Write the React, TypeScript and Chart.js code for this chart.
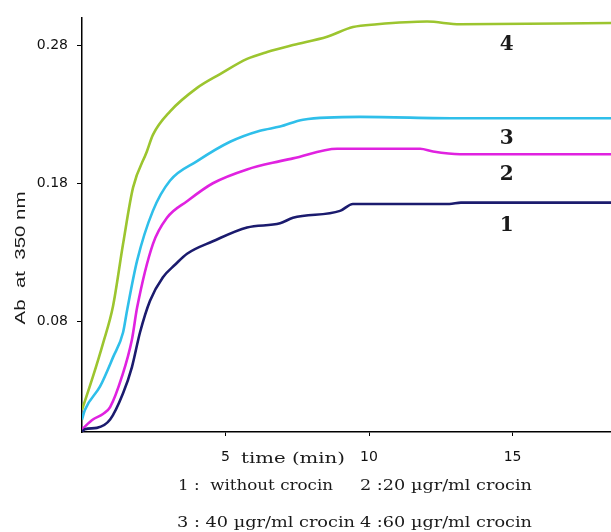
import React, { useEffect, useRef } from "react";
import { Chart, registerables } from "chart.js";

Chart.register(...registerables);

// ---- Data (time in minutes, absorbance at 350 nm) ----
const xTicks = [5, 10, 15];
const xTickLabels = ["5", "10", "15"];
const yTicks = [0.08, 0.18, 0.28];
const yTickLabels = ["0.08", "0.18", "0.28"];

// 1: without crocin
const t1 = [0, 0.1, 0.52, 0.98, 1.43, 1.74, 2.02, 2.37, 2.82, 3.24, 3.66, 4.56, 5.75, 6.9, 7.35, 8.99, 9.44, 12.8, 13.2, 18.43];
const ab1 = [0, 0.002, 0.003, 0.009, 0.028, 0.047, 0.072, 0.095, 0.112, 0.121, 0.129, 0.138, 0.148, 0.151, 0.155, 0.16, 0.165, 0.165, 0.166, 0.166];

// 2: 20 µgr/ml crocin
const t2 = [0, 0.38, 0.73, 0.98, 1.39, 1.74, 1.92, 2.47, 2.96, 3.66, 4.56, 5.75, 6.9, 7.35, 8.89, 11.78, 12.23, 13.17, 18.43];
const ab2 = [0.002, 0.009, 0.013, 0.018, 0.04, 0.067, 0.09, 0.136, 0.155, 0.167, 0.18, 0.19, 0.196, 0.198, 0.205, 0.205, 0.203, 0.201, 0.201];

// 3: 40 µgr/ml crocin
const t3 = [0, 0.1, 0.63, 1.08, 1.43, 1.57, 1.92, 2.47, 3.07, 4.01, 5.16, 6.2, 6.9, 7.7, 9.69, 13.17, 18.43];
const ab3 = [0.009, 0.016, 0.033, 0.054, 0.072, 0.088, 0.124, 0.16, 0.182, 0.196, 0.21, 0.218, 0.221, 0.226, 0.228, 0.227, 0.227];

// 4: 60 µgr/ml crocin
const t4 = [0, 0.38, 0.73, 1.08, 1.43, 1.78, 2.26, 2.47, 3.07, 4.01, 4.81, 5.75, 6.45, 7.35, 8.54, 9.44, 10.28, 12.02, 13.17, 18.43];
const ab4 = [0.016, 0.04, 0.064, 0.091, 0.136, 0.177, 0.203, 0.215, 0.232, 0.249, 0.259, 0.27, 0.275, 0.28, 0.286, 0.293, 0.295, 0.297, 0.295, 0.296];

const seriesNames = ["1", "2", "3", "4"];
const seriesColors = ["#1b1b6e", "#e022e0", "#2fbfea", "#9cc52f"];

const yTitle = "Ab  at  350 nm";
const xTitle = "time (min)";
const legendLine1a = "1 :  without crocin";
const legendLine1b = "2 :20 \u00b5gr/ml crocin";
const legendLine2a = "3 : 40 \u00b5gr/ml crocin";
const legendLine2b = "4 :60 \u00b5gr/ml crocin";

const toPts = (t: number[], a: number[]) => t.map((x, i) => ({ x, y: a[i] }));

function drawFitted(ctx: CanvasRenderingContext2D, text: string, left: number, width: number, baseline: number) {
  const m = ctx.measureText(text).width;
  const sx = width / m;
  ctx.save();
  ctx.translate(left, baseline);
  ctx.scale(sx, 1);
  ctx.textAlign = "left";
  ctx.textBaseline = "alphabetic";
  ctx.fillText(text, 0, 0);
  ctx.restore();
}

const textPlugin = {
  id: "annotText",
  afterDraw(chart: any) {
    const ctx: CanvasRenderingContext2D = chart.ctx;
    const xs = chart.scales.x;
    const ys = chart.scales.y;
    ctx.save();
    ctx.fillStyle = "#1a1a1a";

    // y axis title (rotated)
    ctx.save();
    ctx.font = '15px "Liberation Sans"';
    ctx.translate(25, 258);
    ctx.rotate(-Math.PI / 2);
    const yw = ctx.measureText(yTitle).width;
    ctx.scale(133 / yw, 1);
    ctx.textAlign = "center";
    ctx.textBaseline = "alphabetic";
    ctx.fillText(yTitle, 0, 0);
    ctx.restore();

    // x axis title and legend lines
    ctx.font = '14px "DejaVu Serif"';
    drawFitted(ctx, xTitle, 241, 104, 463);
    ctx.font = '15px "DejaVu Serif"';
    drawFitted(ctx, legendLine1a, 178, 155, 490);
    drawFitted(ctx, legendLine1b, 360, 172, 490);
    drawFitted(ctx, legendLine2a, 177, 178, 527);
    drawFitted(ctx, legendLine2b, 360, 172, 527);

    // curve number labels
    ctx.font = 'bold 20px "DejaVu Serif"';
    ctx.textAlign = "center";
    ctx.textBaseline = "middle";
    const lx = xs.getPixelForValue(14.8);
    const labelVals = [0.149, 0.186, 0.212, 0.28];
    labelVals.forEach((v, i) => {
      ctx.fillText(seriesNames[i], lx, ys.getPixelForValue(v));
    });
    ctx.restore();
  },
};

export default function App() {
  const ref = useRef<HTMLCanvasElement>(null);

  useEffect(() => {
    if (!ref.current) return;
    const datasets = [
      toPts(t1, ab1),
      toPts(t2, ab2),
      toPts(t3, ab3),
      toPts(t4, ab4),
    ].map((data, i) => ({
      label: seriesNames[i],
      data,
      borderColor: seriesColors[i],
      backgroundColor: seriesColors[i],
      borderWidth: 2.6,
      pointRadius: 0,
      cubicInterpolationMode: "monotone" as const,
      fill: false,
    }));

    const chart = new Chart(ref.current, {
      type: "line",
      data: { datasets },
      plugins: [textPlugin],
      options: {
        animation: false,
        responsive: false,
        devicePixelRatio: 1,
        layout: { padding: { top: 15, left: 0, right: 0, bottom: 0 } },
        plugins: { legend: { display: false }, tooltip: { enabled: false } },
        scales: {
          x: {
            type: "linear",
            min: 0,
            max: 18.43,
            afterBuildTicks: (s: any) => {
              s.ticks = xTicks.map((v) => ({ value: v }));
            },
            afterFit: (s: any) => {
              s.height = 100;
            },
            border: { display: true, color: "#000", width: 1.5 },
            grid: {
              display: true,
              drawOnChartArea: false,
              drawTicks: true,
              tickLength: 4,
              tickColor: "#000",
              tickWidth: 1,
            },
            ticks: {
              autoSkip: false,
              maxRotation: 0,
              padding: 13,
              color: "#111",
              font: { family: "DejaVu Sans", size: 14 },
              callback: (_v: any, i: number) => xTickLabels[i],
            },
          },
          y: {
            type: "linear",
            min: 0,
            max: 0.3,
            afterBuildTicks: (s: any) => {
              s.ticks = yTicks.map((v) => ({ value: v }));
            },
            afterFit: (s: any) => {
              s.width = 82;
            },
            border: { display: true, color: "#000", width: 1.5 },
            grid: {
              display: true,
              drawOnChartArea: false,
              drawTicks: true,
              tickLength: 5,
              tickColor: "#000",
              tickWidth: 1,
            },
            ticks: {
              padding: 9,
              color: "#111",
              font: { family: "DejaVu Sans", size: 14 },
              callback: (_v: any, i: number) => yTickLabels[i],
            },
          },
        },
      },
    });
    return () => chart.destroy();
  }, []);

  return (
    <div style={{ position: "absolute", left: 0, top: 0, width: 611, height: 532, background: "#fff" }}>
      <canvas ref={ref} width={611} height={532} style={{ display: "block" }} />
    </div>
  );
}
